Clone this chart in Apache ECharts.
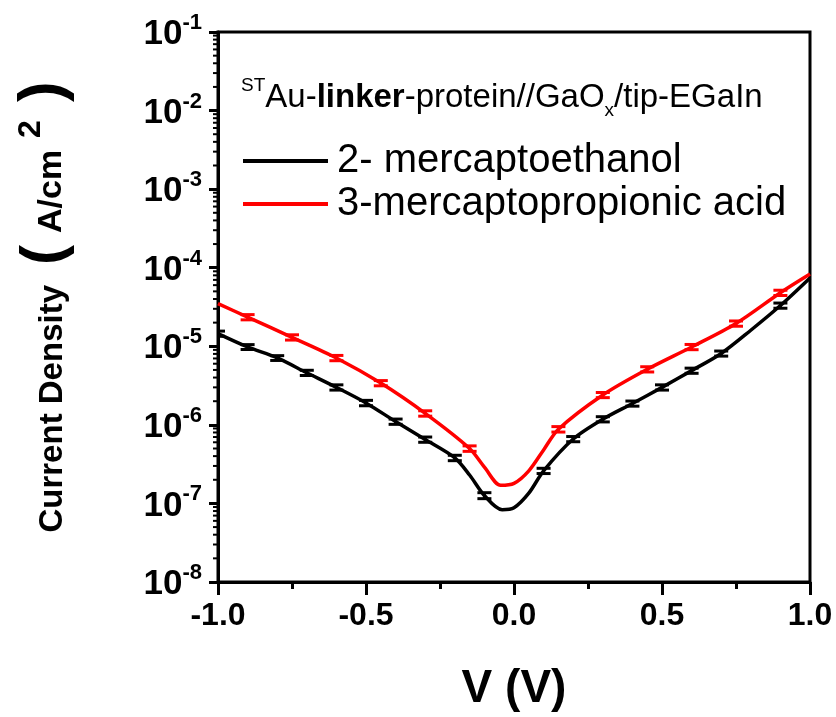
<!DOCTYPE html>
<html>
<head>
<meta charset="utf-8">
<script src="https://cdn.jsdelivr.net/npm/echarts@6/dist/echarts.min.js"></script>
<style>
  html, body { margin: 0; padding: 0; background: #fff; }
  #chart { width: 836px; height: 717px; }
</style>
</head>
<body>
<div id="chart"></div>
<script>
// curve values (V, A/cm^2)
var blackV = [-1.0, -0.9, -0.8, -0.7, -0.6, -0.5, -0.4, -0.3, -0.2, -0.15, -0.1, -0.04, 0.0, 0.05, 0.1, 0.2, 0.3, 0.4, 0.5, 0.6, 0.7, 0.8, 0.9, 1.0];
var blackJ = [1.45e-5, 9.8e-6, 7.1e-6, 4.6e-6, 3.0e-6, 1.9e-6, 1.1e-6, 6.5e-7, 3.8e-7, 2.3e-7, 1.26e-7, 8.3e-8, 8.8e-8, 1.35e-7, 2.6e-7, 6.6e-7, 1.18e-6, 1.87e-6, 3.0e-6, 4.9e-6, 8.1e-6, 1.6e-5, 3.3e-5, 7.4e-5];

var redV = [-1.0, -0.9, -0.75, -0.6, -0.45, -0.3, -0.15, -0.1, -0.045, 0.0, 0.05, 0.1, 0.15, 0.3, 0.45, 0.6, 0.75, 0.9, 1.0];
var redJ = [3.5e-5, 2.35e-5, 1.3e-5, 7.1e-6, 3.4e-6, 1.4e-6, 5.0e-7, 2.9e-7, 1.7e-7, 1.8e-7, 2.6e-7, 4.8e-7, 8.8e-7, 2.4e-6, 5.1e-6, 9.8e-6, 1.95e-5, 4.8e-5, 8.3e-5];

// error bars: position, centre, half size
var errBlackV = [-1.0, -0.9, -0.8, -0.7, -0.6, -0.5, -0.4, -0.3, -0.2, -0.1, 0.1, 0.2, 0.3, 0.4, 0.5, 0.6, 0.7, 0.9];
var errBlackJ = [1.45e-5, 9.8e-6, 7.1e-6, 4.6e-6, 3.0e-6, 1.9e-6, 1.1e-6, 6.5e-7, 3.8e-7, 1.26e-7, 2.6e-7, 6.6e-7, 1.18e-6, 1.87e-6, 3.0e-6, 4.9e-6, 8.1e-6, 3.3e-5];
var errBlackD = [1.1e-6, 7e-7, 5e-7, 3.5e-7, 2.3e-7, 1.5e-7, 8.5e-8, 5e-8, 3e-8, 1.1e-8, 2e-8, 5e-8, 9e-8, 1.4e-7, 2.3e-7, 3.7e-7, 6e-7, 2.5e-6];

var errRedV = [-0.9, -0.75, -0.6, -0.45, -0.3, -0.15, 0.15, 0.3, 0.45, 0.6, 0.75, 0.9];
var errRedJ = [2.35e-5, 1.3e-5, 7.1e-6, 3.4e-6, 1.4e-6, 5.0e-7, 8.8e-7, 2.4e-6, 5.1e-6, 9.8e-6, 1.95e-5, 4.8e-5];
var errRedD = [1.8e-6, 1e-6, 5.5e-7, 2.6e-7, 1.1e-7, 4e-8, 7e-8, 1.8e-7, 3.9e-7, 7.5e-7, 1.5e-6, 3.7e-6];

var seriesNames = ["2- mercaptoethanol", "3-mercaptopropionic acid"];

var FONT = "Liberation Sans";

function pairs(xs, ys) {
    var out = [];
    for (var i = 0; i < xs.length; i++) out.push([xs[i], ys[i]]);
    return out;
}

function errData(xs, ys, ds) {
    var out = [];
    for (var i = 0; i < xs.length; i++) out.push([xs[i], ys[i], ys[i] - ds[i], ys[i] + ds[i]]);
    return out;
}

function renderErr(params, api) {
    var x = api.value(0);
    var pLo = api.coord([x, api.value(2)]);
    var pHi = api.coord([x, api.value(3)]);
    var w = 7;
    var st = { stroke: api.visual("color"), lineWidth: 3 };
    return {
        type: "group",
        children: [
            { type: "line", shape: { x1: pLo[0], y1: pLo[1], x2: pHi[0], y2: pHi[1] }, style: st },
            { type: "line", shape: { x1: pLo[0] - w, y1: pLo[1], x2: pLo[0] + w, y2: pLo[1] }, style: st },
            { type: "line", shape: { x1: pHi[0] - w, y1: pHi[1], x2: pHi[0] + w, y2: pHi[1] }, style: st }
        ]
    };
}

// log minor ticks 2..9 on the left axis
var minorY = [];
for (var k = -8; k < -1; k++) {
    for (var m = 2; m <= 9; m++) minorY.push([-1, m * Math.pow(10, k)]);
}

function renderMinor(params, api) {
    var p = api.coord([api.value(0), api.value(1)]);
    return {
        type: "line",
        shape: { x1: p[0] - 5, y1: p[1], x2: p[0], y2: p[1] },
        style: { stroke: "#000", lineWidth: 2 }
    };
}

var myChart = echarts.init(document.getElementById("chart"));

var option = {
    backgroundColor: "#fff",
    animation: false,
    textStyle: { fontFamily: FONT },
    grid: {
        left: 218, right: 26, top: 32, bottom: 135,
        show: true, borderColor: "#000", borderWidth: 3
    },
    graphic: [{
        type: "text",
        left: 241,
        top: 76,
        style: {
            text: "{sup|ST}{n|Au-}{b|linker}{n|-protein//GaO}{sub|x}{n|/tip-EGaIn}",
            rich: {
                n: { fontFamily: FONT, fontSize: 33, lineHeight: 44, verticalAlign: "middle", fill: "#000" },
                b: { fontFamily: FONT, fontSize: 33, fontWeight: "bold", lineHeight: 44, verticalAlign: "middle", fill: "#000" },
                sup: { fontFamily: FONT, fontSize: 19, lineHeight: 19, verticalAlign: "top", fill: "#000" },
                sub: { fontFamily: FONT, fontSize: 19, lineHeight: 19, verticalAlign: "bottom", fill: "#000" }
            }
        }
    }],
    legend: {
        data: seriesNames,
        orient: "vertical",
        left: 238,
        top: 136,
        icon: "rect",
        itemWidth: 85,
        itemHeight: 4,
        itemGap: 3,
        textStyle: { fontFamily: FONT, fontSize: 40, color: "#000", padding: [0, 0, 0, 4] }
    },
    xAxis: {
        type: "value",
        min: -1,
        max: 1,
        interval: 0.5,
        name: "V (V)",
        nameLocation: "middle",
        nameGap: 84,
        nameTextStyle: { fontFamily: FONT, fontSize: 46, fontWeight: "bold", color: "#000" },
        axisLine: { onZero: false, lineStyle: { color: "#000", width: 3 } },
        axisTick: { inside: false, length: 13, lineStyle: { color: "#000", width: 3 } },
        minorTick: { show: true, splitNumber: 2, length: 7, lineStyle: { color: "#000", width: 3 } },
        splitLine: { show: false },
        axisLabel: {
            margin: 18,
            fontFamily: FONT,
            fontSize: 32,
            fontWeight: "bold",
            color: "#000",
            formatter: function (v) { return v.toFixed(1); }
        }
    },
    yAxis: {
        type: "log",
        logBase: 10,
        min: 1e-8,
        max: 1e-1,
        splitNumber: 7,
        name: "{b|Current Density}{p|(}{c|A/cm}{s|2}{q|)}",
        nameLocation: "middle",
        nameGap: 143,
        nameTextStyle: {
            rich: {
                b: { fontFamily: FONT, fontSize: 33, fontWeight: "bold", color: "#000", lineHeight: 64, verticalAlign: "bottom", padding: [0, 0, 6, 0] },
                c: { fontFamily: FONT, fontSize: 34, fontWeight: "bold", color: "#000", lineHeight: 64, verticalAlign: "bottom", padding: [0, 0, 6, 0] },
                p: { fontFamily: FONT, fontSize: 60, fontWeight: "bold", color: "#000", lineHeight: 64, verticalAlign: "bottom", padding: [0, 12, 0, 20] },
                q: { fontFamily: FONT, fontSize: 62, fontWeight: "bold", color: "#000", lineHeight: 64, verticalAlign: "bottom", padding: [0, 0, 0, 8] },
                s: { fontFamily: FONT, fontSize: 32, fontWeight: "bold", color: "#000", lineHeight: 30, verticalAlign: "top", padding: [4, 10, 0, 12] }
            }
        },
        axisLine: { onZero: false, lineStyle: { color: "#000", width: 3 } },
        axisTick: { inside: false, length: 9, lineStyle: { color: "#000", width: 3 } },
        splitLine: { show: false },
        axisLabel: {
            margin: 16,
            formatter: function (v) {
                return "{b|10}{s|" + Math.round(Math.log10(v)) + "}";
            },
            rich: {
                b: { fontFamily: FONT, fontSize: 35, fontWeight: "bold", color: "#000", lineHeight: 40, verticalAlign: "bottom" },
                s: { fontFamily: FONT, fontSize: 22, fontWeight: "bold", color: "#000", lineHeight: 22, verticalAlign: "top" }
            }
        }
    },
    series: [
        {
            name: seriesNames[0],
            type: "line",
            smooth: 0.3,
            symbol: "none",
            color: "#000",
            lineStyle: { color: "#000", width: 3.5 },
            data: pairs(blackV, blackJ),
            z: 3
        },
        {
            name: seriesNames[1],
            type: "line",
            smooth: 0.3,
            symbol: "none",
            color: "#ff0000",
            lineStyle: { color: "#ff0000", width: 3.5 },
            data: pairs(redV, redJ),
            z: 3
        },
        {
            name: "errBlack",
            type: "custom",
            renderItem: renderErr,
            itemStyle: { color: "#000" },
            data: errData(errBlackV, errBlackJ, errBlackD),
            clip: true,
            z: 4
        },
        {
            name: "errRed",
            type: "custom",
            renderItem: renderErr,
            itemStyle: { color: "#ff0000" },
            data: errData(errRedV, errRedJ, errRedD),
            clip: true,
            z: 4
        },
        {
            name: "minorTicks",
            type: "custom",
            renderItem: renderMinor,
            data: minorY,
            silent: true,
            clip: false,
            z: 5
        }
    ]
};

myChart.setOption(option);
window.addEventListener("resize", function () {
    myChart.resize();
});
</script>
</body>
</html>
